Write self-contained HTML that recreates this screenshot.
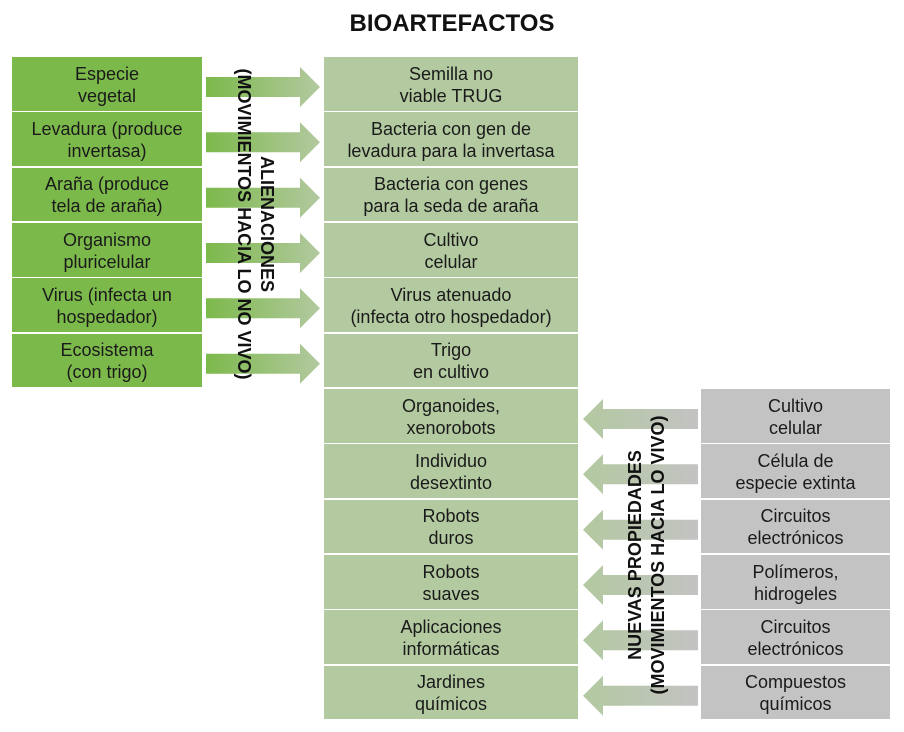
<!DOCTYPE html>
<html><head><meta charset="utf-8"><style>
body{margin:0;width:904px;height:732px;background:#fff;position:relative;overflow:hidden;font-family:"Liberation Sans",Arial,sans-serif;}
.b{position:absolute;height:53.5px;padding-top:2px;box-sizing:border-box;display:flex;align-items:center;justify-content:center;text-align:center;font-size:18px;line-height:22px;color:#1a1a1a;}
.l{left:12px;width:190px;background:#7cb94b;}
.m{left:324px;width:254px;background:#b3c9a0;}
.r{left:701px;width:189px;background:#c3c3c3;}
.t{position:absolute;top:10px;left:0;width:904px;text-align:center;font-weight:bold;font-size:24px;color:#111;}
.v{position:absolute;font-weight:bold;font-size:18px;line-height:23px;text-align:center;white-space:nowrap;color:#111;}
svg{position:absolute;left:0;top:0;}
</style></head><body>
<div class="t">BIOARTEFACTOS</div>
<svg width="904" height="732">
<defs>
<linearGradient id="ga" x1="206" x2="320" gradientUnits="userSpaceOnUse"><stop offset="0" stop-color="#7cb94b"/><stop offset="1" stop-color="#b3c9a0"/></linearGradient>
<linearGradient id="gb" x1="583" x2="698" gradientUnits="userSpaceOnUse"><stop offset="0" stop-color="#b3c9a0"/><stop offset="1" stop-color="#c3c3c3"/></linearGradient>
<g id="la"><polygon points="206,20 300,20 300,10 320,30 300,50 300,40 206,40" fill="url(#ga)"/></g>
<g id="ra"><polygon points="698,20 603,20 603,10 583,30 603,50 603,40 698,40" fill="url(#gb)"/></g>
</defs>
<use href="#la" y="57"/><use href="#la" y="112.3"/><use href="#la" y="167.7"/><use href="#la" y="223"/><use href="#la" y="278.3"/><use href="#la" y="333.7"/>
<use href="#ra" y="389"/><use href="#ra" y="444.3"/><use href="#ra" y="499.7"/><use href="#ra" y="555"/><use href="#ra" y="610.3"/><use href="#ra" y="665.7"/>
</svg>
<div class="v" style="left:255px;top:224px;transform:translate(-50%,-50%) rotate(90deg);">ALIENACIONES<br>(MOVIMIENTOS HACIA LO NO VIVO)</div>
<div class="v" style="left:647px;top:555px;transform:translate(-50%,-50%) rotate(-90deg);">NUEVAS PROPIEDADES<br>(MOVIMIENTOS HACIA LO VIVO)</div>

<div class="b l" style="top:57px">Especie<br>vegetal</div>
<div class="b l" style="top:112.3px">Levadura (produce<br>invertasa)</div>
<div class="b l" style="top:167.7px">Araña (produce<br>tela de araña)</div>
<div class="b l" style="top:223px">Organismo<br>pluricelular</div>
<div class="b l" style="top:278.3px">Virus (infecta un<br>hospedador)</div>
<div class="b l" style="top:333.7px">Ecosistema<br>(con trigo)</div>

<div class="b m" style="top:57px">Semilla no<br>viable TRUG</div>
<div class="b m" style="top:112.3px">Bacteria con gen de<br>levadura para la invertasa</div>
<div class="b m" style="top:167.7px">Bacteria con genes<br>para la seda de araña</div>
<div class="b m" style="top:223px">Cultivo<br>celular</div>
<div class="b m" style="top:278.3px">Virus atenuado<br>(infecta otro hospedador)</div>
<div class="b m" style="top:333.7px">Trigo<br>en cultivo</div>
<div class="b m" style="top:389px">Organoides,<br>xenorobots</div>
<div class="b m" style="top:444.3px">Individuo<br>desextinto</div>
<div class="b m" style="top:499.7px">Robots<br>duros</div>
<div class="b m" style="top:555px">Robots<br>suaves</div>
<div class="b m" style="top:610.3px">Aplicaciones<br>informáticas</div>
<div class="b m" style="top:665.7px">Jardines<br>químicos</div>

<div class="b r" style="top:389px">Cultivo<br>celular</div>
<div class="b r" style="top:444.3px">Célula de<br>especie extinta</div>
<div class="b r" style="top:499.7px">Circuitos<br>electrónicos</div>
<div class="b r" style="top:555px">Polímeros,<br>hidrogeles</div>
<div class="b r" style="top:610.3px">Circuitos<br>electrónicos</div>
<div class="b r" style="top:665.7px">Compuestos<br>químicos</div>
</body></html>
